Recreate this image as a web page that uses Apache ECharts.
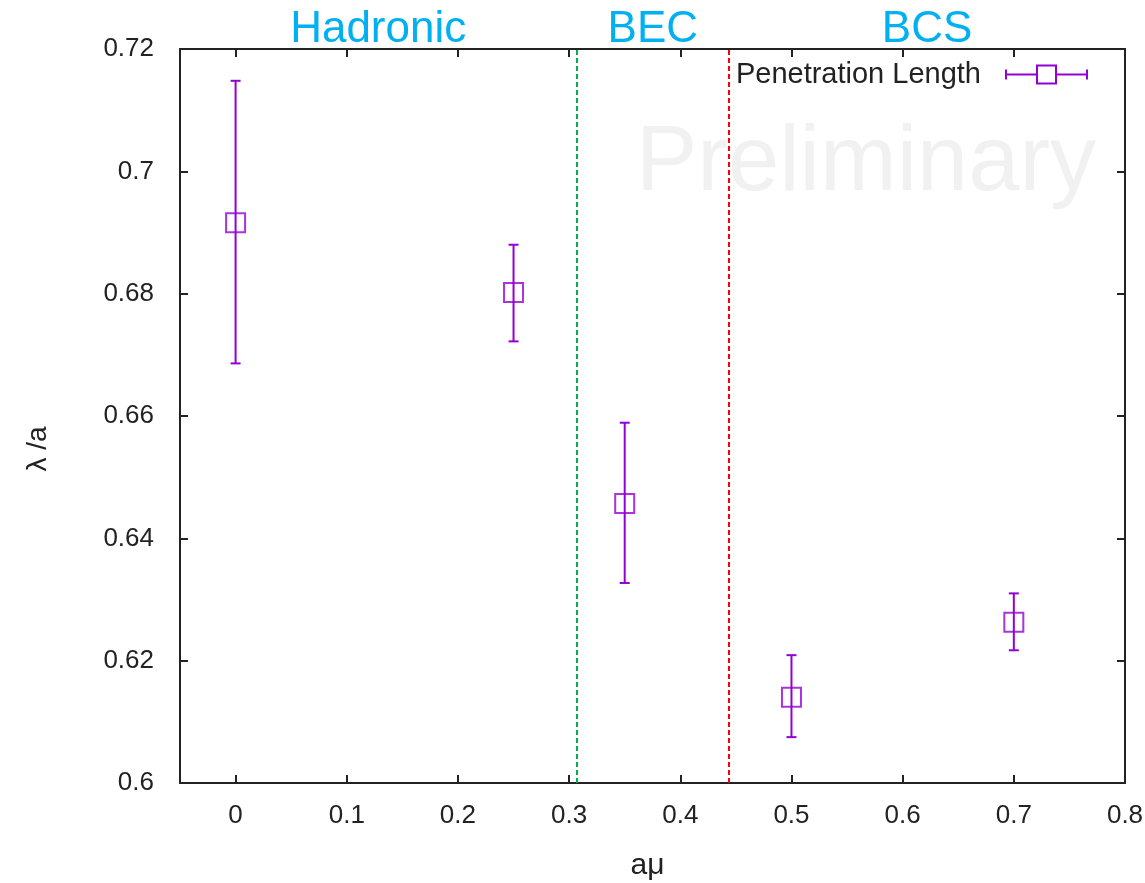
<!DOCTYPE html>
<html>
<head>
<meta charset="utf-8">
<script src="https://cdn.jsdelivr.net/npm/echarts@6/dist/echarts.min.js"></script>
<style>
  html, body { margin: 0; padding: 0; background: #fff; }
  #chart { width: 1145px; height: 883px; }
</style>
</head>
<body>
<div id="chart"></div>
<script>
// data
const amu = [0, 0.25, 0.35, 0.5, 0.7]
const lambda = [0.6916, 0.6802, 0.6457, 0.6140, 0.6263]
const errLow = [0.6686, 0.6722, 0.6327, 0.6075, 0.6217]
const errHigh = [0.7148, 0.6880, 0.6589, 0.6209, 0.6310]
const xTicks = [0, 0.1, 0.2, 0.3, 0.4, 0.5, 0.6, 0.7, 0.8]
const boundaries = [0.3065, 0.444]
const regions = [
  {name: 'Hadronic', from: -0.05, to: 0.3065},
  {name: 'BEC', from: 0.3065, to: 0.444},
  {name: 'BCS', from: 0.444, to: 0.8}
]

const purple = '#9400d3'
const font = 'Liberation Sans, Arial, sans-serif'

let points = amu.map((x, i) => [x, lambda[i]])
let bars = amu.map((x, i) => [x, lambda[i], errLow[i], errHigh[i]])

let chart = echarts.init(document.getElementById('chart'))

let baseX = {
  type: 'value',
  min: -0.05,
  max: 0.8,
  splitLine: {show: false},
  axisLine: {onZero: false, lineStyle: {color: '#222', width: 2}},
  axisTick: {inside: true, length: 8, customValues: xTicks, lineStyle: {color: '#222', width: 2}}
}
let baseY = {
  type: 'value',
  min: 0.6,
  max: 0.72,
  interval: 0.02,
  splitLine: {show: false},
  axisLine: {show: true, onZero: false, lineStyle: {color: '#222', width: 2}},
  axisTick: {inside: true, length: 8, lineStyle: {color: '#222', width: 2}}
}

let option = {
  backgroundColor: '#fff',
  animation: false,
  grid: {left: 180, right: 20, top: 49, bottom: 100, outerBoundsMode: 'none'},
  graphic: [{
    type: 'text',
    left: 636,
    top: 119,
    z: 0,
    style: {text: 'Preliminary', fontSize: 92, fontFamily: font, fill: '#f1f1f1'}
  }],
  legend: {
    right: 52,
    top: 55,
    align: 'right',
    itemWidth: 81,
    itemHeight: 18,
    textStyle: {fontSize: 29, color: '#222', fontFamily: font, padding: [0, 20, 0, 0]},
    data: [{
      name: 'Penetration Length',
      icon: 'path://M0,4 L0,14 M0,9 L31,9 M50,9 L81,9 M81,4 L81,14 M31,0 L50,0 L50,18 L31,18 Z',
      itemStyle: {color: 'transparent', borderColor: purple, borderWidth: 2}
    }]
  },
  xAxis: [
    Object.assign({}, baseX, {
      name: 'aμ',
      nameLocation: 'middle',
      nameGap: 68,
      nameTextStyle: {fontSize: 30, color: '#222', fontFamily: font, padding: [0, 10, 0, 0]},
      axisLabel: {customValues: xTicks, fontSize: 26, color: '#222', fontFamily: font, margin: 20}
    }),
    Object.assign({}, baseX, {position: 'top', axisLabel: {show: false}})
  ],
  yAxis: [
    Object.assign({}, baseY, {
      name: 'λ /a',
      nameLocation: 'middle',
      nameGap: 128,
      nameRotate: 90,
      nameTextStyle: {fontSize: 28, color: '#222', fontFamily: font, padding: [0, 66, 0, 0]},
      axisLabel: {fontSize: 26, color: '#222', fontFamily: font, margin: 26}
    }),
    Object.assign({}, baseY, {position: 'right', axisLabel: {show: false}})
  ],
  series: [
    {
      name: 'Penetration Length',
      type: 'custom',
      data: bars,
      z: 3,
      renderItem: function (params, api) {
        let x = api.value(0)
        let lo = api.coord([x, api.value(2)])
        let hi = api.coord([x, api.value(3)])
        let cap = 5
        let style = {stroke: purple, lineWidth: 2}
        return {
          type: 'group',
          children: [
            {type: 'line', shape: {x1: lo[0], y1: lo[1], x2: hi[0], y2: hi[1]}, style: style},
            {type: 'line', shape: {x1: lo[0] - cap, y1: lo[1], x2: lo[0] + cap, y2: lo[1]}, style: style},
            {type: 'line', shape: {x1: hi[0] - cap, y1: hi[1], x2: hi[0] + cap, y2: hi[1]}, style: style}
          ]
        }
      }
    },
    {
      name: 'Penetration Length',
      type: 'scatter',
      data: points,
      z: 4,
      symbol: 'rect',
      symbolSize: 19,
      itemStyle: {color: 'transparent', borderColor: purple, borderWidth: 2},
      markLine: {
        silent: true,
        symbol: 'none',
        precision: 4,
        label: {show: false},
        data: [
          {xAxis: boundaries[0], lineStyle: {color: '#00b050', type: [5, 3], width: 2}},
          {xAxis: boundaries[1], lineStyle: {color: '#ff0000', type: [5, 3], width: 2}}
        ]
      },
      markArea: {
        silent: true,
        itemStyle: {color: 'transparent'},
        label: {position: 'top', distance: -3, color: '#00b0f0', fontSize: 44, fontFamily: font},
        data: regions.map(r => [{name: r.name, xAxis: r.from}, {xAxis: r.to}])
      }
    }
  ]
}
chart.setOption(option)
</script>
</body>
</html>
